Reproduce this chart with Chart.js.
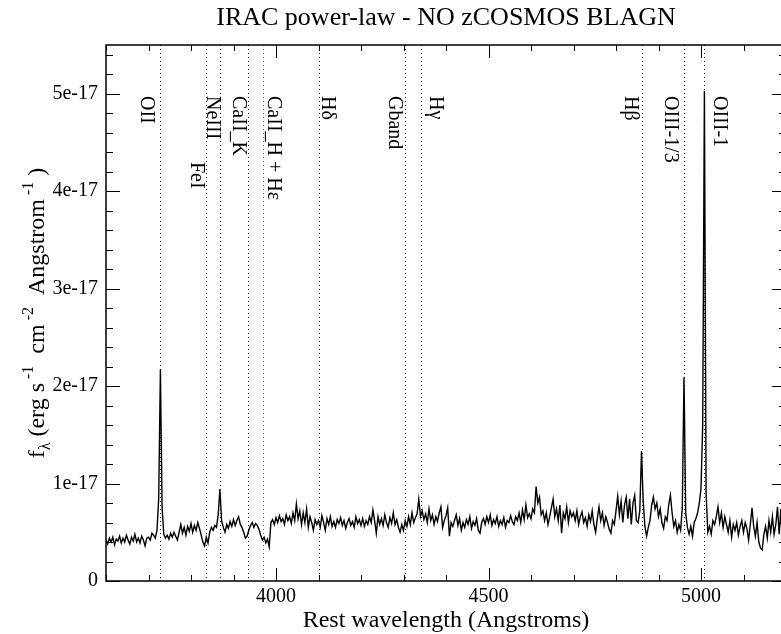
<!DOCTYPE html>
<html>
<head>
<meta charset="utf-8">
<script src="https://cdn.jsdelivr.net/npm/chart.js@4/dist/chart.umd.min.js"></script>
<style>
  html, body { margin: 0; padding: 0; background: #fff; overflow: hidden; }
  canvas { display: block; }
</style>
</head>
<body>
<canvas id="spec" width="790" height="634"></canvas>
<script>
// Spectre (unités de 1e-17 erg/s/cm2/A), échantillonné tous les 4 A depuis 3600 A
const waveStart = 3600;
const waveStep = 4;
const flux = [
  0.42,0.38,0.44,0.40,0.45,0.37,0.43,0.41,0.46,0.39,0.44,0.40,0.47,0.42,0.38,0.45,0.41,0.48,0.40,0.44,0.39,0.46,0.42,0.36,0.44,
  0.45,0.42,0.49,0.47,0.44,0.52,0.85,2.17,0.75,0.48,0.44,0.47,0.43,0.49,0.45,0.50,0.46,0.42,0.50,0.58,0.49,0.55,0.47,0.56,0.51,
  0.59,0.50,0.57,0.52,0.60,0.54,0.47,0.40,0.36,0.45,0.39,0.50,0.55,0.52,0.57,0.55,0.68,0.94,0.62,0.55,0.50,0.58,0.54,0.61,0.56,
  0.63,0.57,0.62,0.66,0.58,0.55,0.50,0.44,0.46,0.52,0.57,0.60,0.55,0.59,0.57,0.53,0.47,0.42,0.45,0.39,0.43,0.35,0.60,0.63,0.58,
  0.65,0.60,0.67,0.61,0.64,0.58,0.68,0.62,0.66,0.59,0.70,0.62,0.79,0.64,0.72,0.58,0.70,0.60,0.74,0.55,0.66,0.60,0.52,0.63,0.58,
  0.62,0.55,0.67,0.60,0.52,0.64,0.58,0.66,0.56,0.61,0.55,0.63,0.59,0.65,0.57,0.62,0.54,0.60,0.64,0.57,0.61,0.55,0.66,0.59,0.63,
  0.57,0.64,0.56,0.62,0.58,0.66,0.60,0.73,0.62,0.49,0.66,0.58,0.64,0.57,0.68,0.60,0.55,0.65,0.59,0.70,0.58,0.63,0.55,0.50,0.58,
  0.52,0.62,0.56,0.66,0.58,0.70,0.60,0.65,0.69,0.84,0.66,0.72,0.63,0.69,0.60,0.74,0.62,0.68,0.58,0.66,0.61,0.70,0.76,0.55,0.62,
  0.67,0.75,0.46,0.60,0.56,0.62,0.68,0.57,0.64,0.52,0.60,0.55,0.63,0.58,0.66,0.54,0.61,0.57,0.64,0.52,0.49,0.60,0.64,0.58,0.66,
  0.60,0.68,0.57,0.63,0.59,0.66,0.56,0.62,0.58,0.65,0.55,0.62,0.60,0.67,0.61,0.58,0.66,0.62,0.70,0.60,0.73,0.63,0.78,0.65,0.69,
  0.64,0.74,0.70,0.97,0.80,0.86,0.68,0.72,0.62,0.70,0.58,0.66,0.75,0.84,0.66,0.74,0.62,0.78,0.49,0.70,0.64,0.76,0.60,0.72,0.66,
  0.70,0.62,0.72,0.58,0.66,0.71,0.60,0.65,0.56,0.68,0.61,0.72,0.58,0.50,0.64,0.76,0.62,0.70,0.57,0.66,0.60,0.53,0.49,0.62,0.58,
  0.72,0.87,0.68,0.82,0.60,0.78,0.86,0.64,0.84,0.58,0.80,0.88,0.62,0.60,0.72,1.33,0.82,0.56,0.46,0.55,0.62,0.78,0.86,0.74,0.80,
  0.66,0.74,0.60,0.54,0.66,0.62,0.78,0.88,0.70,0.56,0.62,0.50,0.58,0.52,0.75,2.09,0.70,0.55,0.48,0.56,0.46,0.60,0.64,0.70,0.80,
  0.95,1.60,5.03,0.90,0.50,0.56,0.48,0.62,0.58,0.66,0.76,0.60,0.70,0.55,0.66,0.58,0.50,0.62,0.45,0.58,0.52,0.60,0.47,0.56,0.62,
  0.50,0.60,0.54,0.42,0.58,0.75,0.56,0.46,0.60,0.40,0.34,0.32,0.48,0.56,0.44,0.62,0.50,0.66,0.48,0.58,0.76,0.48,0.74,0.40,0.60,
  0.58
];

// Raies identifiées
const lineNames = ["OII", "FeI", "NeIII", "CaII_K", "CaII_H + Hε", "Hδ", "Gband", "Hγ", "Hβ", "OIII-1/3", "OIII-1"];
const lineWaves = [3727, 3835, 3869, 3934, 3969, 4102, 4304, 4340, 4861, 4959, 5007];

// Axes
const xMin = 3600, xMax = 5200;
const xTicks = [4000, 4500, 5000];
const yMax = 5.5;
const yTicks = [0, 1, 2, 3, 4, 5];
const yTickLabels = ["0", "1e-17", "2e-17", "3e-17", "4e-17", "5e-17"];

// Placement des étiquettes (décalage en px par rapport à la raie, haut du texte)
const labelDx = [-18.6, -15.3, -13, -15.3, 5.6, 2.7, -16.7, 9.3, -17.3, -18.7, 10];
const labelTop = [96, 162, 96, 96, 96, 96, 96, 96, 96, 96, 96];
const lineColors = ["#000", "#000", "#000", "#000", "#b03a7a", "#000", "#000", "#000", "#000", "#000", "#000"];

const SERIF = "'Liberation Serif', 'DejaVu Serif', serif";

const points = flux.map((f, i) => ({ x: waveStart + i * waveStep, y: f }));

const decorPlugin = {
  id: "decor",
  beforeDatasetsDraw(chart) {
    const ctx = chart.ctx;
    const a = chart.chartArea;
    const xs = chart.scales.x;
    ctx.save();
    lineWaves.forEach((w, i) => {
      const px = Math.round(xs.getPixelForValue(w)) + 0.5;
      ctx.strokeStyle = lineColors[i];
      ctx.lineWidth = 1;
      ctx.setLineDash([1, 3]);
      ctx.beginPath();
      ctx.moveTo(px, a.top);
      ctx.lineTo(px, a.bottom);
      ctx.stroke();
    });
    ctx.setLineDash([]);
    ctx.fillStyle = "#000";
    ctx.font = "20px " + SERIF;
    ctx.textBaseline = "alphabetic";
    ctx.textAlign = "left";
    lineNames.forEach((name, i) => {
      const px = xs.getPixelForValue(lineWaves[i]) + labelDx[i];
      ctx.save();
      ctx.translate(px, labelTop[i]);
      ctx.rotate(Math.PI / 2);
      ctx.fillText(name, 0, 0);
      ctx.restore();
    });
    ctx.restore();
  },
  afterDraw(chart) {
    const ctx = chart.ctx;
    const a = chart.chartArea;
    const xs = chart.scales.x;
    const ys = chart.scales.y;
    ctx.save();
    // cadre
    ctx.strokeStyle = "#000";
    ctx.lineWidth = 1.5;
    ctx.strokeRect(a.left, a.top, a.right - a.left, a.bottom - a.top);
    // graduations vers l'intérieur
    ctx.lineWidth = 1;
    ctx.beginPath();
    for (let w = xMin; w <= xMax; w += 100) {
      const px = Math.round(xs.getPixelForValue(w)) + 0.5;
      const len = (w % 500 === 0) ? 13 : 6;
      ctx.moveTo(px, a.bottom); ctx.lineTo(px, a.bottom - len);
      ctx.moveTo(px, a.top); ctx.lineTo(px, a.top + len);
    }
    for (let k = 0; k <= 27; k++) {
      const v = k * 0.2;
      const py = Math.round(ys.getPixelForValue(v)) + 0.5;
      const len = (k % 5 === 0) ? 14 : 7;
      ctx.moveTo(a.left, py); ctx.lineTo(a.left + len, py);
      ctx.moveTo(a.right, py); ctx.lineTo(a.right - len, py);
    }
    ctx.stroke();

    // titres
    const cx = (a.left + a.right) / 2;
    const cy = (a.top + a.bottom) / 2;
    ctx.fillStyle = "#000";
    ctx.textAlign = "center";
    ctx.textBaseline = "alphabetic";
    ctx.font = "26px " + SERIF;
    ctx.fillText("IRAC power-law - NO zCOSMOS BLAGN", cx, 25);
    ctx.font = "24px " + SERIF;
    ctx.fillText("Rest wavelength (Angstroms)", cx, 627);

    // titre Y avec indices / exposants
    const parts = [
      { t: "f", s: 24, dy: 0 },
      { t: "λ", s: 16, dy: 6 },
      { t: " (erg s", s: 24, dy: 0 },
      { t: " -1", s: 16, dy: -11 },
      { t: "  cm", s: 24, dy: 0 },
      { t: " -2", s: 16, dy: -11 },
      { t: "  Angstrom", s: 24, dy: 0 },
      { t: " -1", s: 16, dy: -11 },
      { t: " )", s: 24, dy: 0 }
    ];
    let total = 0;
    parts.forEach(p => { ctx.font = p.s + "px " + SERIF; p.w = ctx.measureText(p.t).width; total += p.w; });
    ctx.save();
    ctx.translate(44, cy);
    ctx.rotate(-Math.PI / 2);
    ctx.textAlign = "left";
    let u = -total / 2;
    parts.forEach(p => {
      ctx.font = p.s + "px " + SERIF;
      ctx.fillText(p.t, u, p.dy);
      u += p.w;
    });
    ctx.restore();
    ctx.restore();
  }
};

const ctx = document.getElementById("spec").getContext("2d");
new Chart(ctx, {
  type: "line",
  data: {
    datasets: [{
      data: points,
      borderColor: "#000",
      borderWidth: 1.4,
      pointRadius: 0,
      tension: 0,
      fill: false
    }]
  },
  options: {
    responsive: false,
    animation: false,
    parsing: false,
    layout: { padding: { top: 45, right: 4, left: 0, bottom: 0 } },
    plugins: { legend: { display: false }, tooltip: { enabled: false }, title: { display: false } },
    scales: {
      x: {
        type: "linear",
        min: xMin,
        max: xMax,
        grid: { display: false, drawTicks: false },
        border: { display: false },
        afterBuildTicks: s => { s.ticks = xTicks.map(v => ({ value: v })); },
        afterFit: s => { s.height = 53; },
        ticks: {
          color: "#000",
          padding: 4,
          maxRotation: 0,
          autoSkip: false,
          font: { family: SERIF, size: 20 },
          callback: v => String(v)
        }
      },
      y: {
        type: "linear",
        min: 0,
        max: yMax,
        grid: { display: false, drawTicks: false },
        border: { display: false },
        afterBuildTicks: s => { s.ticks = yTicks.map(v => ({ value: v })); },
        afterFit: s => { s.width = 106; },
        ticks: {
          color: "#000",
          padding: 8,
          autoSkip: false,
          font: { family: SERIF, size: 20 },
          callback: v => yTickLabels[yTicks.indexOf(v)]
        }
      }
    }
  },
  plugins: [decorPlugin]
});
</script>
</body>
</html>
